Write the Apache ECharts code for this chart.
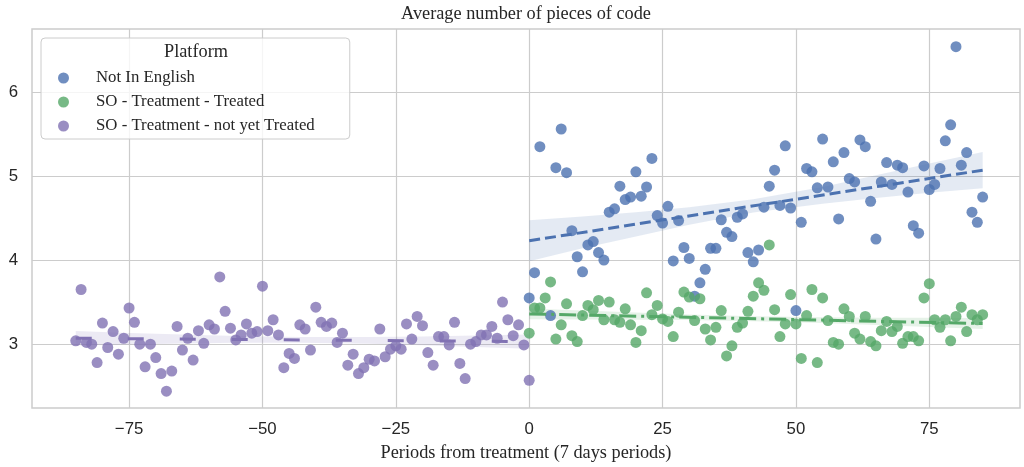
<!DOCTYPE html>
<html>
<head>
<meta charset="utf-8">
<script src="https://cdn.jsdelivr.net/npm/echarts@6/dist/echarts.min.js"></script>
<style>html,body{margin:0;padding:0;background:#fff}#c{width:1024px;height:467px}</style>
</head>
<body>
<div id="c"></div>
<script>
// ---- tick labels ----
const xTicks = [-75, -50, -25, 0, 25, 50, 75];
const yTicks = [3, 4, 5, 6];

// ---- series names ----
const seriesNames = ['Not In English', 'SO - Treatment - Treated', 'SO - Treatment - not yet Treated'];

// ---- Not In English (blue) ----
const blueX = [0,1,2,4,5,6,7,8,9,10,11,12,13,14,15,16,17,18,19,20,21,22,23,24,25,26,27,28,29,30,31,32,33,34,35,36,37,38,39,40,41,42,43,44,45,46,47,48,49,50,51,52,53,54,55,56,57,58,59,60,61,62,63,64,65,66,67,68,69,70,71,72,73,74,75,76,77,78,79,80,81,82,83,84,85];
const blueY = [3.55,3.85,5.35,3.34,5.10,5.56,5.04,4.35,4.04,3.86,4.18,4.22,4.09,4.00,4.57,4.61,4.88,4.72,4.75,5.05,4.76,4.87,5.21,4.53,4.44,4.64,3.99,4.47,4.15,4.02,3.57,3.73,3.89,4.14,4.14,4.48,4.33,4.28,4.51,4.55,4.09,3.98,4.12,4.63,4.88,5.07,4.65,5.36,4.62,3.40,4.45,5.09,5.05,4.86,5.44,4.87,5.17,4.49,5.28,4.97,4.93,5.43,5.35,4.70,4.25,4.93,5.16,4.90,5.13,5.10,4.81,4.41,4.32,5.12,4.84,4.90,5.09,5.42,5.61,6.54,5.13,5.28,4.57,4.45,4.75];

// ---- SO - Treatment - Treated (green) ----
const greenX = [0,1,2,3,4,5,6,7,8,9,10,11,12,13,14,15,16,17,18,19,20,21,22,23,24,25,26,27,28,29,30,31,32,33,34,35,36,37,38,39,40,41,42,43,44,45,46,47,48,49,50,51,52,53,54,55,56,57,58,59,60,61,62,63,64,65,66,67,68,69,70,71,72,73,74,75,76,77,78,79,80,81,82,83,84,85];
const greenY = [3.13,3.43,3.43,3.55,3.74,3.06,3.23,3.48,3.10,3.03,
  3.34,3.46,3.41,3.52,3.29,3.50,3.29,3.26,3.42,3.23,
  3.02,3.16,3.61,3.35,3.46,3.30,3.27,3.09,3.38,3.62,
  3.56,3.28,3.54,3.18,3.05,3.20,3.40,2.86,2.98,3.20,
  3.25,3.39,3.57,3.73,3.64,4.18,3.41,3.09,3.24,3.59,
  3.24,2.83,3.34,3.65,2.78,3.55,3.28,3.02,3.00,3.42,
  3.33,3.13,3.06,3.33,3.03,2.98,3.16,3.27,3.15,3.21,
  3.01,3.09,3.09,3.04,3.55,3.72,3.29,3.20,3.29,3.04,
  3.33,3.44,3.15,3.35,3.29,3.35];

// ---- SO - Treatment - not yet Treated (purple) ----
const purpleX = [-85,-84,-83,-82,-81,-80,-79,-78,-77,-76,-75,-74,-73,-72,-71,-70,-69,-68,-67,-66,-65,-64,-63,-62,-61,-60,-59,-58,-57,-56,-55,-54,-53,-52,-51,-50,-49,-48,-47,-46,-45,-44,-43,-42,-41,-40,-39,-38,-37,-36,-35,-34,-33,-32,-31,-30,-29,-28,-27,-26,-25,-24,-23,-22,-21,-20,-19,-18,-17,-16,-15,-14,-13,-12,-11,-10,-9,-8,-7,-6,-5,-4,-3,-2,-1,0];
const purpleY = [3.04,3.65,3.02,3.00,2.78,3.25,2.96,3.15,2.88,3.07,
  3.43,3.26,3.00,2.73,3.00,2.84,2.65,2.44,2.68,3.21,
  2.93,3.07,2.81,3.16,3.01,3.23,3.18,3.80,3.39,3.19,
  3.05,3.11,3.24,3.13,3.15,3.69,3.16,3.29,3.11,2.72,
  2.89,2.83,3.23,3.18,2.93,3.44,3.26,3.21,3.25,3.02,
  3.13,2.75,2.88,2.65,2.72,2.82,2.80,3.18,2.85,2.94,
  2.98,2.94,3.24,3.06,3.33,3.22,2.90,2.75,3.09,3.09,
  2.99,3.26,2.77,2.59,3.00,3.03,3.11,3.11,3.21,3.07,
  3.50,3.29,3.10,3.23,2.99,2.57];

// ---- regression fits ----
const blueFitX = [0, 85], blueFitY = [4.23, 5.07];
const greenFitX = [0, 85], greenFitY = [3.36, 3.245];
const purpleFitX = [-85, 0], purpleFitY = [3.07, 3.03];

// ---- confidence bands ----
const postBandX = [0, 10, 20, 30, 42, 55, 65, 75, 85];
const blueBandLo = [3.985, 4.14, 4.28, 4.42, 4.565, 4.67, 4.74, 4.80, 4.855];
const blueBandHi = [4.475, 4.52, 4.57, 4.63, 4.725, 4.87, 5.01, 5.15, 5.285];
const greenBandLo = [3.295, 3.293, 3.291, 3.286, 3.273, 3.252, 3.229, 3.205, 3.18];
const greenBandHi = [3.425, 3.399, 3.375, 3.352, 3.333, 3.320, 3.315, 3.313, 3.31];
const preBandX = [-85, -75, -65, -55, -43, -30, -20, -10, 0];
const purpleBandLo = [2.985, 2.997, 3.008, 3.016, 3.015, 3.004, 2.986, 2.967, 2.945];
const purpleBandHi = [3.155, 3.133, 3.114, 3.096, 3.085, 3.084, 3.092, 3.103, 3.115];

const COLORS = ['#4C72B0', '#55A868', '#8172B3'];
const BANDS = ['rgba(76,114,176,0.15)', 'rgba(85,168,104,0.15)', 'rgba(129,114,179,0.15)'];

const zip = (xs, ys) => xs.map((x, i) => [x, ys[i]]);
const minusFmt = v => String(v).replace('-', '\u2212');

function scatter(name, xs, ys, color) {
  return { name, type: 'scatter', data: zip(xs, ys), symbolSize: 11,
    itemStyle: { color, opacity: 0.8 }, silent: true };
}
function band(name, xs, lo, hi, fill) {
  return { name, type: 'custom', silent: true, clip: true,
    data: [[xs[0], lo[0]]],
    renderItem: (params, api) => {
      const pts = [];
      for (let i = 0; i < xs.length; i++) pts.push(api.coord([xs[i], hi[i]]));
      for (let i = xs.length - 1; i >= 0; i--) pts.push(api.coord([xs[i], lo[i]]));
      return { type: 'polygon', shape: { points: pts }, style: { fill } };
    } };
}
function fit(name, xs, ys, color, dash) {
  return { name, type: 'line', data: zip(xs, ys), showSymbol: false, silent: true,
    lineStyle: { color, width: 3, type: dash } };
}

const chart = echarts.init(document.getElementById('c'), null, { renderer: 'canvas' });
chart.setOption({
  animation: false,
  backgroundColor: '#ffffff',
  grid: { left: 32, right: 4, top: 29, bottom: 53, show: true, borderColor: '#cccccc', borderWidth: 1.5 },
  xAxis: {
    type: 'value', min: -93.2, max: 92,
    axisLine: { show: false },
    axisTick: { show: false, customValues: xTicks },
    splitLine: { show: true, lineStyle: { color: '#cccccc', width: 1.2 } },
    axisLabel: { customValues: xTicks, formatter: minusFmt, color: '#262626', fontSize: 16.8,
      fontFamily: '"Liberation Sans", Arial, sans-serif', margin: 13 },
    name: 'Periods from treatment (7 days periods)', nameLocation: 'middle', nameGap: 36,
    nameTextStyle: { fontFamily: '"Liberation Serif", "Times New Roman", serif', fontSize: 18.3, color: '#262626' }
  },
  yAxis: {
    type: 'value', min: 2.24, max: 6.75,
    axisLine: { show: false },
    axisTick: { show: false, customValues: yTicks },
    splitLine: { show: true, lineStyle: { color: '#cccccc', width: 1.2 } },
    axisLabel: { customValues: yTicks, color: '#262626', fontSize: 16.8,
      fontFamily: '"Liberation Sans", Arial, sans-serif', margin: 14 }
  },
  legend: {
    data: seriesNames, orient: 'vertical', left: 41, top: 38,
    icon: 'circle', itemWidth: 11, itemHeight: 11, itemGap: 4,
    padding: [30, 35, 3, 17],
    backgroundColor: 'rgba(255,255,255,0.8)', borderColor: '#cccccc', borderWidth: 1, borderRadius: 4,
    textStyle: { fontFamily: '"Liberation Serif", "Times New Roman", serif', fontSize: 16.8, color: '#262626',
      lineHeight: 20, padding: [0, 0, 0, 22] },
    selectedMode: false
  },
  graphic: [
    { type: 'text', x: 526, y: 14, z: 100,
      style: { text: 'Average number of pieces of code', font: '18.3px "Liberation Serif", serif',
        fill: '#262626', textAlign: 'center', textVerticalAlign: 'middle' } },
    { type: 'text', x: 196, y: 52, z: 100,
      style: { text: 'Platform', font: '18.3px "Liberation Serif", serif',
        fill: '#262626', textAlign: 'center', textVerticalAlign: 'middle' } }
  ],
  series: [
    scatter(seriesNames[0], blueX, blueY, COLORS[0]),
    band('blue band', postBandX, blueBandLo, blueBandHi, BANDS[0]),
    fit('blue fit', blueFitX, blueFitY, COLORS[0], [11, 5]),
    scatter(seriesNames[1], greenX, greenY, COLORS[1]),
    band('green band', postBandX, greenBandLo, greenBandHi, BANDS[1]),
    fit('green fit', greenFitX, greenFitY, COLORS[1], [17, 5, 3, 5]),
    scatter(seriesNames[2], purpleX, purpleY, COLORS[2]),
    band('purple band', preBandX, purpleBandLo, purpleBandHi, BANDS[2]),
    fit('purple fit', purpleFitX, purpleFitY, COLORS[2], [16, 36])
  ]
});
</script>
</body>
</html>
